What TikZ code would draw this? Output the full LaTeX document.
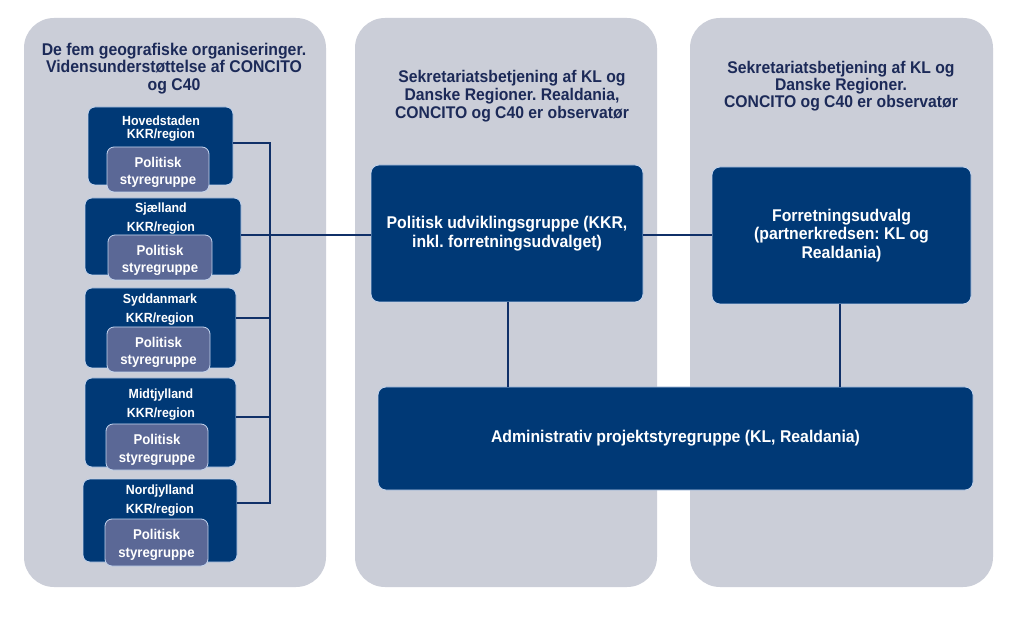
\documentclass[tikz,border=0pt]{standalone}
\usepackage{fontspec}
\setmainfont{Liberation Sans}[FakeStretch=0.93]
\frenchspacing
\definecolor{panelc}{RGB}{203,206,216}
\definecolor{navyc}{RGB}{0,57,118}
\definecolor{slatec}{RGB}{91,104,150}
\definecolor{linec}{RGB}{16,48,104}
\definecolor{titlec}{RGB}{28,42,88}
\definecolor{rimc}{RGB}{195,212,238}
\tikzset{
  panel/.style={fill=panelc, rounded corners=30pt},
  navybox/.style={fill=navyc, draw=rimc, line width=0.8pt, rounded corners=8pt, inner sep=0pt, outer sep=0pt, text=white, align=center, font=\bfseries\fontsize{17}{18.5}\selectfont},
  regbox/.style={fill=navyc, draw=rimc, line width=0.8pt, rounded corners=7pt, inner sep=0pt, outer sep=0pt},
  innerbox/.style={fill=slatec, draw=rimc, line width=0.8pt, rounded corners=7pt, inner sep=0pt, outer sep=0pt},
  innertxt/.style={text=white, align=center, inner sep=0pt, font=\bfseries\fontsize{14.2}{17.5}\selectfont},
  regtxt/.style={text=white, align=center, inner sep=0pt, font=\bfseries\fontsize{13.3}{19}\selectfont},
  titletxt/.style={text=titlec, align=center, inner sep=0pt, font=\bfseries\fontsize{17}{17.5}\selectfont},
  conn/.style={draw=linec, line width=1.9pt},
}
\begin{document}
\begin{tikzpicture}[x=1pt,y=-1pt]
\useasboundingbox (0,0) rectangle (1023,617);
\fill[white] (0,0) rectangle (1023,617);
% panels
\path[panel] (24,18) rectangle (326,587);
\path[panel] (355,18) rectangle (657,587);
\path[panel] (690,18) rectangle (993,587);
% titles
\node[titletxt] (t1) at (174,68.5) {De fem geografiske organiseringer.\\Vidensunderstøttelse af CONCITO\\og C40};
\node[titletxt, font=\bfseries\fontsize{16.9}{18}\selectfont] (t2) at (512,96.5) {Sekretariatsbetjening af KL og\\Danske Regioner. Realdania,\\CONCITO og C40 er observatør};
\node[titletxt, font=\bfseries\fontsize{16.9}{17}\selectfont] (t3) at (841,86.5) {Sekretariatsbetjening af KL og\\Danske Regioner.\\CONCITO og C40 er observatør};
% connector coordinates
\coordinate (sp1) at (270,143);
\coordinate (s2) at (270,235);
\coordinate (s3) at (270,318);
\coordinate (s4) at (270,417);
\coordinate (sp5) at (270,503);
\coordinate (v1) at (508,0);
\coordinate (v2) at (840,0);
% regional boxes
\node[regbox, minimum width=145pt, minimum height=78pt] (hov) at (160.5,146) {};
\node[regbox, minimum width=156pt, minimum height=77pt] (sja) at (163,236.5) {};
\node[regbox, minimum width=151pt, minimum height=80pt] (syd) at (160.5,328) {};
\node[regbox, minimum width=151pt, minimum height=89pt] (mid) at (160.5,422.5) {};
\node[regbox, minimum width=154pt, minimum height=83pt] (nor) at (160,520.5) {};
% connectors from regions
\draw[conn] (hov.east |- sp1) -- (sp1) -- (sp5) -- (nor.east |- sp5);
\draw[conn] (syd.east |- s3) -- (s3);
\draw[conn] (mid.east |- s4) -- (s4);
% region texts
\node[regtxt, font=\bfseries\fontsize{13.3}{13}\selectfont] (hovt) at (161,128.5) {Hovedstaden\\KKR/region};
\node[regtxt] (sjat) at (161,218.5) {Sjælland\\KKR/region};
\node[regtxt] (sydt) at (160,309.5) {Syddanmark\\KKR/region};
\node[regtxt] (midt) at (161,404.5) {Midtjylland\\KKR/region};
\node[regtxt] (nort) at (160,500.5) {Nordjylland\\KKR/region};
% inner boxes
\node[innerbox, minimum width=102pt, minimum height=45pt] (hovp) at (158,169.5) {};
\node[innerbox, minimum width=104pt, minimum height=45pt] (sjap) at (160,257.5) {};
\node[innerbox, minimum width=103pt, minimum height=45pt] (sydp) at (158.5,349.5) {};
\node[innerbox, minimum width=102pt, minimum height=46pt] (midp) at (157,447) {};
\node[innerbox, minimum width=103pt, minimum height=47pt] (norp) at (156.5,542.5) {};
\node[innertxt] (hovpt) at (158,172.5) {Politisk\\styregruppe};
\node[innertxt] (sjapt) at (160,260.5) {Politisk\\styregruppe};
\node[innertxt] (sydpt) at (158.5,352.5) {Politisk\\styregruppe};
\node[innertxt] (midpt) at (157,450) {Politisk\\styregruppe};
\node[innertxt] (norpt) at (156.5,545) {Politisk\\styregruppe};
% main boxes
\node[navybox, minimum width=272pt, minimum height=137pt] (pug) at (507,233.5) {Politisk udviklingsgruppe (KKR,\\inkl. forretningsudvalget)};
\node[navybox, minimum width=259pt, minimum height=137pt] (fu) at (841.5,235.5) {Forretningsudvalg\\(partnerkredsen: KL og\\Realdania)};
\node[navybox, minimum width=595pt, minimum height=103pt] (aps) at (675.5,438.5) {Administrativ projektstyregruppe (KL, Realdania)};
% connectors
\draw[conn] (sja.east |- s2) -- (pug.west |- s2);
\draw[conn] (pug.east |- s2) -- (fu.west |- s2);
\draw[conn] (v1 |- pug.south) -- (v1 |- aps.north);
\draw[conn] (v2 |- fu.south) -- (v2 |- aps.north);
\end{tikzpicture}
\end{document}
